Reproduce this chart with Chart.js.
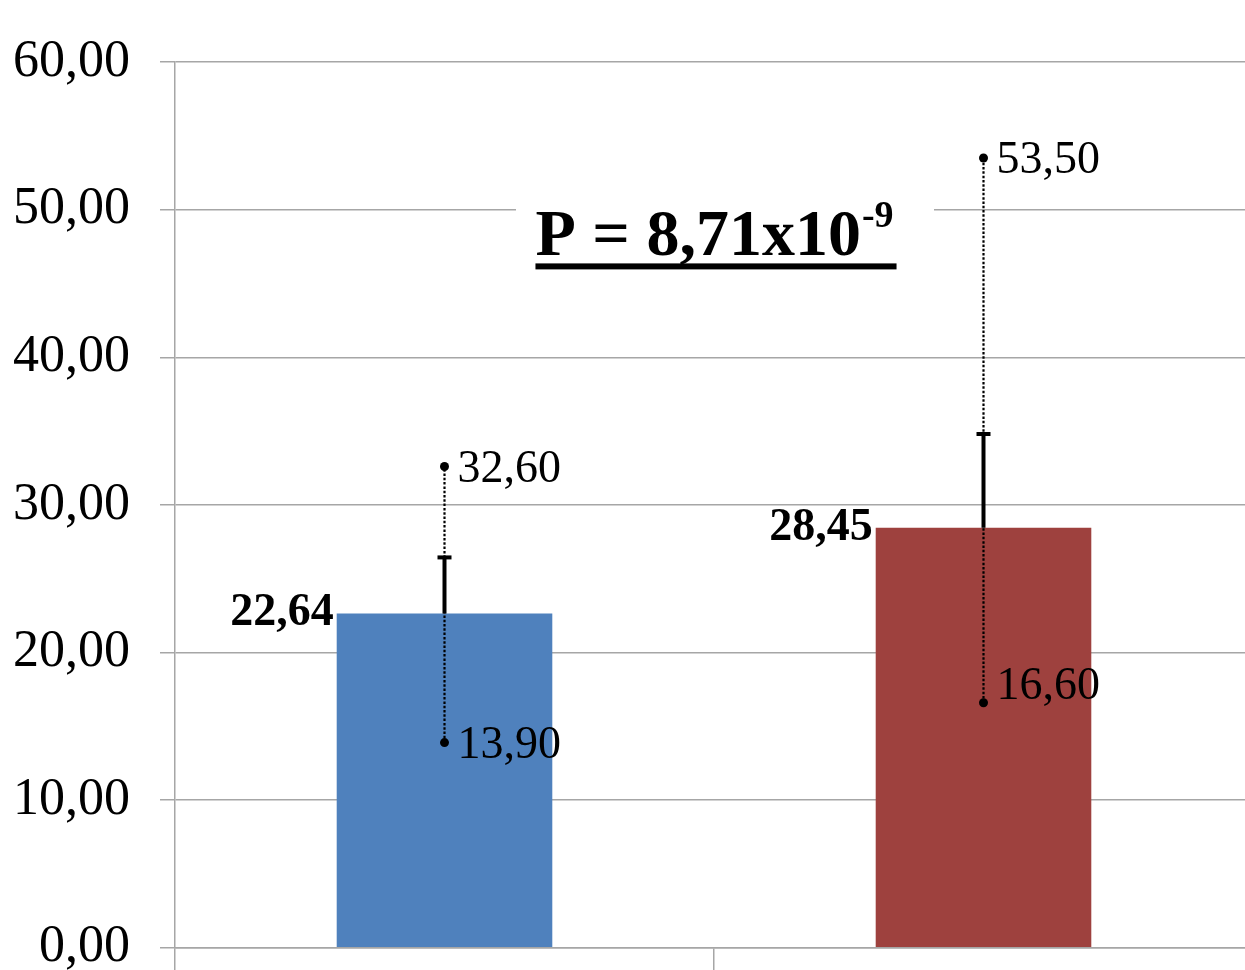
<!DOCTYPE html>
<html>
<head>
<meta charset="utf-8">
<script src="https://cdn.jsdelivr.net/npm/chart.js@4/dist/chart.umd.min.js"></script>
<style>
  html, body { margin: 0; padding: 0; background: #fff; overflow: hidden; }
  #wrap { width: 1253px; height: 970px; overflow: hidden; }
</style>
</head>
<body>
<div id="wrap"><canvas id="c" width="1253" height="1009"></canvas></div>
<script>
// Two groups: mean, standard deviation, minimum and maximum
const groups = ['', ''];
const means = [22.64, 28.45];
const sds = [3.87, 6.42];
const mins = [13.90, 16.60];
const maxs = [32.60, 53.50];
const barColors = ['#4f81bd', '#9e413e'];
const yTicks = [0, 10, 20, 30, 40, 50, 60];
const pText = 'P = 8,71x10';
const pExp = '-9';

const fmt = v => v.toFixed(2).replace('.', ',');
const SERIF = '"Liberation Serif", "Times New Roman", serif';
const GRID = '#a6a6a6';

// small vertical nudges for the min / max labels (px)
const minLabelShift = [3, -16];
const maxLabelShift = [3, 3];

const errorBars = {
  id: 'errorBars',
  afterDatasetsDraw(chart) {
    const ctx = chart.ctx;
    const y = chart.scales.y;
    const meta = chart.getDatasetMeta(0);
    meta.data.forEach((bar, i) => {
      const x = bar.x;
      const yMin = y.getPixelForValue(mins[i]);
      const yMax = y.getPixelForValue(maxs[i]);
      const yMean = y.getPixelForValue(means[i]);
      const ySd = y.getPixelForValue(means[i] + sds[i]);
      ctx.save();
      // range line (dotted)
      ctx.strokeStyle = '#000';
      ctx.lineWidth = 2.2;
      ctx.setLineDash([2.5, 1.8]);
      ctx.beginPath();
      ctx.moveTo(x, yMin);
      ctx.lineTo(x, yMax);
      ctx.stroke();
      ctx.setLineDash([]);
      // standard deviation (solid with cap)
      ctx.lineWidth = 4;
      ctx.beginPath();
      ctx.moveTo(x, yMean);
      ctx.lineTo(x, ySd);
      ctx.stroke();
      ctx.beginPath();
      ctx.moveTo(x - 7, ySd + 1);
      ctx.lineTo(x + 7, ySd + 1);
      ctx.stroke();
      // end dots
      ctx.fillStyle = '#000';
      [yMin, yMax].forEach(py => {
        ctx.beginPath();
        ctx.arc(x, py, 4.5, 0, Math.PI * 2);
        ctx.fill();
      });
      // min / max labels
      ctx.font = '46px ' + SERIF;
      ctx.textAlign = 'left';
      ctx.textBaseline = 'middle';
      ctx.fillText(fmt(maxs[i]), x + 13, yMax + maxLabelShift[i]);
      ctx.fillText(fmt(mins[i]), x + 13, yMin + minLabelShift[i]);
      // mean label at the left of the bar top
      ctx.font = 'bold 46px ' + SERIF;
      ctx.textAlign = 'right';
      const left = x - bar.width / 2;
      ctx.fillText(fmt(means[i]), left - 3, yMean);
      ctx.restore();
    });

    // significance label between the bars
    const xs = chart.scales.x;
    const cx = (xs.getPixelForValue(0) + xs.getPixelForValue(1)) / 2;
    const base = y.getPixelForValue(46.9);
    ctx.save();
    ctx.fillStyle = '#fff';
    ctx.fillRect(cx - 198, base - 70, 418, 100);
    ctx.fillStyle = '#000';
    ctx.font = 'bold 66px ' + SERIF;
    ctx.textBaseline = 'alphabetic';
    ctx.textAlign = 'left';
    const wMain = ctx.measureText(pText).width;
    ctx.font = 'bold 38px ' + SERIF;
    const wExp = ctx.measureText(pExp).width;
    const startX = cx - (wMain + wExp) / 2;
    ctx.font = 'bold 66px ' + SERIF;
    ctx.fillText(pText, startX, base);
    ctx.font = 'bold 38px ' + SERIF;
    ctx.fillText(pExp, startX + wMain + 1, base - 28);
    ctx.fillRect(startX, base + 8, wMain + wExp + 4, 6);
    ctx.restore();
  }
};

new Chart(document.getElementById('c'), {
  type: 'bar',
  data: {
    labels: groups,
    datasets: [{
      data: means,
      backgroundColor: barColors,
      borderWidth: 0,
      categoryPercentage: 1,
      barPercentage: 0.4
    }]
  },
  options: {
    responsive: false,
    devicePixelRatio: 1,
    animation: false,
    layout: { padding: { top: 62, right: 0, left: 0, bottom: 0 } },
    plugins: { legend: { display: false }, tooltip: { enabled: false } },
    scales: {
      x: {
        offset: true,
        grid: { offset: true, drawOnChartArea: false, drawTicks: true, tickLength: 30, color: GRID, lineWidth: 1.5 },
        border: { color: GRID, width: 1.5 },
        ticks: { display: false },
        afterFit(s) { s.height = 23; }
      },
      y: {
        min: 0,
        max: 60,
        afterBuildTicks(s) { s.ticks = yTicks.map(v => ({ value: v })); },
        ticks: {
          callback: v => fmt(v),
          color: '#000',
          font: { family: SERIF, size: 52 },
          padding: 30
        },
        grid: { color: GRID, tickLength: 15, lineWidth: 1.5 },
        border: { color: GRID, width: 1.5 },
        afterFit(s) { s.width = 175; }
      }
    }
  },
  plugins: [errorBars]
});
</script>
</body>
</html>
